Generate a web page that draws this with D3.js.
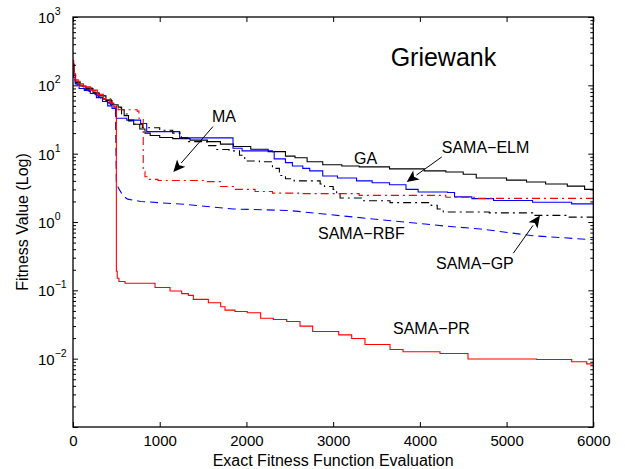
<!DOCTYPE html>
<html>
<head>
<meta charset="utf-8">
<script src="https://cdn.jsdelivr.net/npm/d3@7"></script>
<style>
  body { margin: 0; background: #fff; }
  svg { display: block; font-family: "Liberation Sans", Arial, Helvetica, sans-serif; }
</style>
</head>
<body>
<svg width="625" height="469"></svg>
<script>
// x = exact fitness evaluations, y = fitness value (log)
var xTicks = [0, 1000, 2000, 3000, 4000, 5000, 6000];
var yExps = [-3, -2, -1, 0, 1, 2, 3];
var yLabelExps = [-2, -1, 0, 1, 2, 3]; // matlab leaves the bottom one out

var gaData = [[0,200],[10,140],[30,110],[80,98],[150,88],[230,78],[300,70],[380,60],[450,52],[520,48],[560,44],[590,36],[640,31],[700,27],[770,23],[830,20],[890,18.4],[1000,17.2],[1150,16.6],[1350,15.8],[1550,15],[1700,13.8],[1850,12.7],[2050,11.6],[2250,10.7],[2450,9.2],[2560,8.7],[2700,7.6],[2880,6.9],[3100,6.6],[3300,6.4],[3650,6.0],[4050,5.6],[4300,5.4],[4500,5.0],[4650,4.4],[5000,4.1],[5230,3.85],[5450,3.6],[5700,3.35],[5900,3.0],[6000,2.9]];

var elmData = [[0,170],[8,130],[25,105],[70,90],[130,84],[200,76],[270,66],[340,58],[400,50],[450,46],[500,33],[620,31],[780,27.7],[850,21],[1230,17],[1845,12],[1950,11],[2300,10.7],[2320,8.4],[2450,7.4],[2530,6.6],[2650,6.1],[2730,5.6],[2880,4.7],[3050,4.4],[3270,4.0],[3450,3.75],[3650,3.5],[3840,3.0],[3980,2.75],[4320,2.7],[4400,2.33],[4600,2.2],[4850,2.06],[5300,1.95],[5750,1.84],[6000,1.8]];

var gpData = [[0,200],[10,140],[30,112],[80,98],[150,90],[230,80],[300,71],[370,62],[440,54],[500,47],[560,38],[640,30],[700,27],[800,24],[1000,22],[1150,20],[1250,17],[1320,15],[1545,13.1],[1650,11.5],[1800,11],[1920,9.5],[1980,7.8],[2150,7.6],[2300,6.1],[2380,4.8],[2450,4.3],[2550,4.0],[2850,3.6],[2900,3.3],[3000,3.0],[3040,2.6],[3080,2.25],[3344,2.05],[3656,1.92],[4130,1.75],[4200,1.55],[4270,1.4],[4800,1.36],[5300,1.25],[5700,1.18],[6000,1.12]];

var rbfData = [[0,190],[10,135],[30,108],[80,95],[150,86],[230,77],[300,68],[370,60],[440,52],[490,46],[500,3.6],[540,2.9],[580,2.4],[630,2.16],[780,2.0],[1320,1.8],[1850,1.55],[2500,1.47],[3270,1.17],[4300,0.87],[4700,0.79],[5300,0.63],[6000,0.55]];

var maData = [[0,210],[10,145],[30,115],[80,100],[150,92],[220,84],[290,74],[360,64],[430,55],[480,48],[520,44],[740,42],[760,33],[810,5.5],[830,4.6],[880,4.2],[980,4.05],[1550,3.9],[1700,3.3],[1850,3.0],[2100,2.8],[2300,2.65],[2600,2.6],[3300,2.45],[4300,2.3],[4650,2.22],[6000,2.2]];

var prData = [[0,230],[8,150],[25,120],[60,105],[120,95],[200,85],[280,72],[350,62],[420,55],[470,48],[500,0.19],[510,0.15],[530,0.135],[600,0.127],[946,0.110],[1119,0.0977],[1253,0.0894],[1330,0.0845],[1388,0.0738],[1561,0.0659],[1703,0.0576],[1753,0.0513],[1868,0.0491],[2010,0.0470],[2164,0.0391],[2310,0.0374],[2464,0.0350],[2618,0.0299],[2764,0.0250],[3064,0.0223],[3214,0.0197],[3367,0.0161],[3656,0.0136],[3806,0.0126],[4232,0.0119],[4555,0.0099],[5347,0.0097],[5751,0.0090],[5924,0.0084],[6000,0.0082]];

var series = [
  {name: 'GA',       data: gaData,  color: '#000000', dash: null,      step: true},
  {name: 'SAMA-ELM', data: elmData, color: '#0000ff', dash: null,      step: true},
  {name: 'SAMA-GP',  data: gpData,  color: '#000000', dash: '8,4,2,4', step: true},
  {name: 'SAMA-RBF', data: rbfData, color: '#0000ff', dash: '8,5',     step: false},
  {name: 'MA',       data: maData,  color: '#ff0000', dash: '8,4,2,4', step: true},
  {name: 'SAMA-PR',  data: prData,  color: '#ff0000', dash: null,      step: true}
];

// text labels [text, x, y] in data units (baseline, left)
var labels = [
  ['GA', 3240, 6.96],
  ['MA', 1603, 29.3],
  ['SAMA\u2212ELM', 4252, 10.35],
  ['SAMA\u2212RBF', 2825, 0.562],
  ['SAMA\u2212GP', 4186, 0.204],
  ['SAMA\u2212PR', 3690, 0.0233]
];
// arrows [x1, y1, x2 (tip), y2 (tip)]
var arrows = [
  [1614, 24.9, 1157, 5.38],
  [4252, 8.94, 3848, 3.84],
  [5078, 0.35, 5385, 1.24]
];

var svg = d3.select('svg');
var pLeft = 73, pRight = 593.3, pTop = 17, pBottom = 427;

var x = d3.scaleLinear().domain([0, 6000]).range([pLeft, pRight]);
var y = d3.scaleLog().domain([1e-3, 1e3]).range([pBottom, pTop]);

svg.append('defs').append('clipPath').attr('id', 'plot')
  .append('rect').attr('x', pLeft).attr('y', pTop)
  .attr('width', pRight - pLeft).attr('height', pBottom - pTop);

// lines
var g = svg.append('g').attr('clip-path', 'url(#plot)');
series.forEach(function(s) {
  var line = d3.line()
    .x(function(d) { return x(d[0]); })
    .y(function(d) { return y(d[1]); })
    .curve(s.step ? d3.curveStepAfter : d3.curveLinear);
  g.append('path')
    .datum(s.data)
    .attr('d', line)
    .attr('fill', 'none')
    .attr('stroke', s.color)
    .attr('stroke-width', 1.1)
    .attr('stroke-dasharray', s.dash);
});

// axes box with inward ticks (matlab style)
var axes = svg.append('g');
var xAxB = d3.axisBottom(x).tickValues(xTicks).tickSizeInner(-5).tickSizeOuter(0).tickPadding(8).tickFormat(d3.format('d'));
var xAxT = d3.axisTop(x).tickValues(xTicks).tickSizeInner(-5).tickSizeOuter(0).tickFormat('');
var majors = yExps.map(function(e) { return Math.pow(10, e); });
var minors = [];
yExps.slice(0, -1).forEach(function(e) {
  for (var k = 2; k < 10; k++) minors.push(k * Math.pow(10, e));
});
var yAxL = d3.axisLeft(y).tickValues(majors).tickSizeInner(-5).tickSizeOuter(0).tickFormat('');
var yAxR = d3.axisRight(y).tickValues(majors).tickSizeInner(-5).tickSizeOuter(0).tickFormat('');
var yMinL = d3.axisLeft(y).tickValues(minors).tickSizeInner(-3).tickSizeOuter(0).tickFormat('');
var yMinR = d3.axisRight(y).tickValues(minors).tickSizeInner(-3).tickSizeOuter(0).tickFormat('');

axes.append('g').attr('transform', 'translate(0,' + pBottom + ')').call(xAxB);
axes.append('g').attr('transform', 'translate(0,' + pTop + ')').call(xAxT);
axes.append('g').attr('transform', 'translate(' + pLeft + ',0)').call(yAxL);
axes.append('g').attr('transform', 'translate(' + pRight + ',0)').call(yAxR);
axes.append('g').attr('transform', 'translate(' + pLeft + ',0)').call(yMinL);
axes.append('g').attr('transform', 'translate(' + pRight + ',0)').call(yMinR);
axes.selectAll('.domain').remove();
axes.selectAll('line').attr('stroke', '#000');
axes.selectAll('text').attr('fill', '#000').style('font-size', '15px').style('font-family', null);

svg.append('rect')
  .attr('x', pLeft).attr('y', pTop)
  .attr('width', pRight - pLeft).attr('height', pBottom - pTop)
  .attr('fill', 'none').attr('stroke', '#000').attr('stroke-width', 1.3);

// y tick labels 10^n
var yl = svg.append('g').selectAll('text').data(yLabelExps).enter().append('text')
  .attr('x', 38)
  .attr('y', function(e) { return y(Math.pow(10, e)) + 6; })
  .style('font-size', '15px');
yl.append('tspan').text('10');
yl.append('tspan').attr('dy', -8).style('font-size', '10.5px')
  .text(function(e) { return e < 0 ? '\u2212' + (-e) : e; });

// axis titles
svg.append('text').attr('x', (pLeft + pRight) / 2).attr('y', 466)
  .attr('text-anchor', 'middle').style('font-size', '16px')
  .text('Exact Fitness Function Evaluation');
svg.append('text').attr('transform', 'translate(28,' + (pTop + pBottom) / 2 + ') rotate(-90)')
  .attr('text-anchor', 'middle').style('font-size', '16px')
  .text('Fitness Value (Log)');

// title inside the plot
svg.append('text').attr('x', x(3663)).attr('y', y(192))
  .style('font-size', '25px').text('Griewank');

// curve labels
svg.append('g').selectAll('text').data(labels).enter().append('text')
  .attr('x', function(d) { return x(d[1]); })
  .attr('y', function(d) { return y(d[2]); })
  .style('font-size', '16px')
  .text(function(d) { return d[0]; });

// arrows
arrows.forEach(function(a) {
  var x1 = x(a[0]), y1 = y(a[1]), x2 = x(a[2]), y2 = y(a[3]);
  var ang = Math.atan2(y2 - y1, x2 - x1);
  var hl = 12, hw = 5.5;
  var bx = x2 - hl * Math.cos(ang), by = y2 - hl * Math.sin(ang);
  svg.append('line').attr('x1', x1).attr('y1', y1).attr('x2', bx).attr('y2', by)
    .attr('stroke', '#000').attr('stroke-width', 1);
  var px = -Math.sin(ang) * hw, py = Math.cos(ang) * hw;
  var back = 0.75;
  var nx = x2 - hl * back * Math.cos(ang), ny = y2 - hl * back * Math.sin(ang);
  svg.append('path')
    .attr('d', 'M' + x2 + ',' + y2 + 'L' + (bx + px) + ',' + (by + py) + 'L' + nx + ',' + ny + 'L' + (bx - px) + ',' + (by - py) + 'Z')
    .attr('fill', '#000');
});
</script>
</body>
</html>
